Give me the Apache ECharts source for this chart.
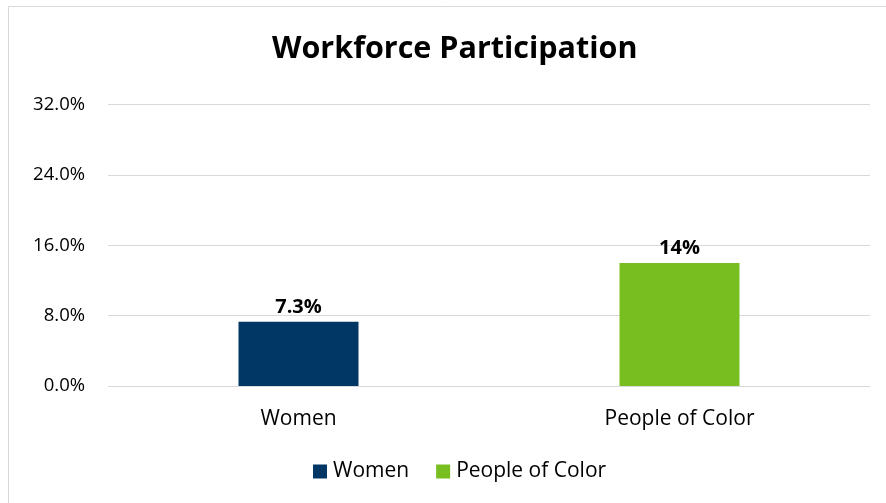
<!DOCTYPE html>
<html>
<head>
<meta charset="utf-8">
<script src="https://cdn.jsdelivr.net/npm/echarts@6/dist/echarts.min.js"></script>
<style>
html,body{margin:0;padding:0;background:#fff;}
#chart{width:886px;height:503px;}
</style>
</head>
<body>
<div id="chart"></div>
<script>
const categories = ['Women', 'People of Color'];
const seriesNames = ['Women', 'People of Color'];
const values = [7.3, 14];
const labelTexts = ['7.3%', '14%'];
const colors = ['#003764', '#78BE20'];
const yTicks = [0, 8, 16, 24, 32];

const FONT = 'Open Sans';
const chart = echarts.init(document.getElementById('chart'), null, {renderer: 'canvas'});

const series = seriesNames.map((name, i) => ({
  name: name,
  type: 'bar',
  stack: 'one',
  barWidth: 120,
  data: categories.map((c, j) => j === i ? values[j] : '-'),
  itemStyle: {color: colors[i]},
  label: {
    show: true,
    position: 'top',
    distance: 5,
    formatter: () => labelTexts[i],
    fontFamily: FONT,
    fontWeight: 'bold',
    fontSize: 20,
    color: '#000'
  }
}));

chart.setOption({
  backgroundColor: '#fff',
  animation: false,
  graphic: [{
    type: 'rect',
    shape: {x: 8.5, y: 6.5, width: 1000, height: 1000},
    style: {fill: 'none', stroke: '#d9d9d9', lineWidth: 1},
    silent: true, z: -1
  }],
  title: {
    text: 'Workforce Participation',
    left: 267,
    top: 29,
    textStyle: {fontFamily: FONT, fontWeight: 'bold', fontSize: 30.5, color: '#000'}
  },
  legend: {
    data: seriesNames,
    top: 461,
    left: 313,
    itemWidth: 14,
    itemHeight: 14,
    itemGap: 27,
    icon: 'rect',
    padding: 0,
    textStyle: {fontFamily: FONT, fontSize: 21, color: '#000', padding: [0,0,0,1]}
  },
  grid: {left: 108, right: 16, top: 104.7, bottom: 117},
  xAxis: {
    type: 'category',
    data: categories,
    axisLine: {show: false},
    axisTick: {show: false},
    axisLabel: {fontFamily: FONT, fontSize: 21, color: '#000', margin: 23}
  },
  yAxis: {
    type: 'value',
    min: 0, max: 32, interval: 8,
    axisLine: {show: false},
    axisTick: {show: false},
    splitLine: {lineStyle: {color: '#d9d9d9', width: 1}},
    axisLabel: {
      fontFamily: FONT, fontSize: 18.5, color: '#000', margin: 23,
      formatter: v => v.toFixed(1) + '%'
    }
  },
  series: series
});
</script>
</body>
</html>
